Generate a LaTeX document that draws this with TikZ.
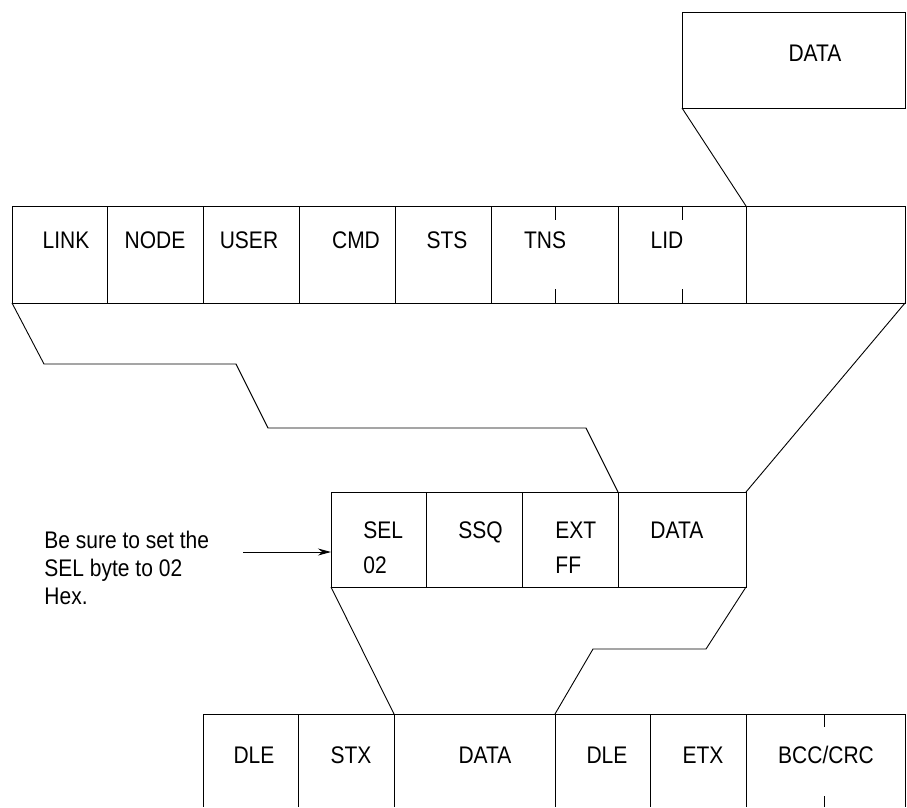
\documentclass[tikz,border=0pt]{standalone}
\usepackage{fontspec}
\setmainfont{Liberation Sans}[FakeStretch=0.875]
\usetikzlibrary{arrows.meta}

\begin{document}
\begin{tikzpicture}[x=1pt, y=-1pt, line width=0.9pt,
    >={Stealth[length=13pt, width=7pt]},
    every node/.style={font=\fontsize{24}{28}\selectfont, inner sep=0pt},
    field/.style={anchor=base}]
    \useasboundingbox (0,0) rectangle (907,807);

    % --- 1. data block (top) ---
    \coordinate (D_nw) at (682,12);
    \coordinate (D_se) at (905,108);
    \coordinate (D_sw) at (682,108);
    \draw (D_nw) rectangle (D_se);
    \node[field] (data_top) at (815,61) {DATA};

    % --- 2. command packet ---
    \coordinate (P_nw) at (12,206);
    \coordinate (P_se) at (905,303);
    \coordinate (P_sw) at (12,303);
    \coordinate (P_data) at (746,206);   % start of data field
    \draw (P_nw) rectangle (P_se);
    \foreach \x in {107,203,299,395,491,618,746}
        \draw (\x,206) -- (\x,303);
    % half-field marks
    \foreach \x in {555,682} {
        \draw (\x,206) -- (\x,220);
        \draw (\x,289) -- (\x,303);
    }
    \node[field] (link) at (66,248)  {LINK};
    \node[field] (node) at (155,248) {NODE};
    \node[field] (user) at (249,248) {USER};
    \node[field] (cmd)  at (356,248) {CMD};
    \node[field] (sts)  at (447,248) {STS};
    \node[field] (tns)  at (545,248) {TNS};
    \node[field] (lid)  at (667,248) {LID};

    \draw (D_sw) -- (P_data);

    % --- 3. PCCC data part ---
    \coordinate (M_nw) at (331,492);
    \coordinate (M_se) at (746,587);
    \coordinate (M_sw) at (331,587);
    \coordinate (M_data) at (618,492);
    \coordinate (M_ne) at (746,492);
    \draw (M_nw) rectangle (M_se);
    \foreach \x in {426,522,618}
        \draw (\x,492) -- (\x,587);
    \node[field, anchor=base west] (sel)    at (363,538) {SEL};
    \node[field, anchor=base west] (selval) at (363,573) {02};
    \node[field, anchor=base west] (ssq)    at (458,538) {SSQ};
    \node[field, anchor=base west] (ext)    at (555,538) {EXT};
    \node[field, anchor=base west] (extval) at (555,573) {FF};
    \node[field, anchor=base west] (data_mid) at (650,538) {DATA};

    % funnel packet -> data part
    \coordinate (f1) at (44,364);
    \coordinate (f2) at (236,364);
    \coordinate (f3) at (268,428);
    \coordinate (f4) at (586,428);
    \draw (P_sw) -- (f1) -- (f2) -- (f3) -- (f4) -- (M_data);
    \draw (P_se) -- (M_ne);

    % note
    \node[anchor=north west, align=left] (note) at (44,531)
        {Be sure to set the\\SEL byte to 02\\Hex.};
    \coordinate (note_end) at (243,552);
    \coordinate (sel_in) at (331,552);
    \draw[->] (note_end) -- (sel_in);

    % --- 4. link layer frame (cut off at bottom) ---
    \coordinate (L_nw) at (203,714);
    \coordinate (L_ne) at (905,714);
    \coordinate (L_data) at (394,714);
    \coordinate (L_dle) at (555,714);
    \draw (L_nw) -- (L_ne);
    \foreach \x in {203,298,394,555,650,746,905}
        \draw (\x,714) -- (\x,807);
    \draw (824,714) -- (824,727);
    \draw (824,796) -- (824,807);
    \node[field] (dle1) at (254,763) {DLE};
    \node[field] (stx)  at (351,763) {STX};
    \node[field] (data_low) at (485,763) {DATA};
    \node[field] (dle2) at (607,763) {DLE};
    \node[field] (etx)  at (703,763) {ETX};
    \node[field] (bcc)  at (826,763) {BCC/CRC};

    % funnel data part -> frame
    \coordinate (g1) at (706,649);
    \coordinate (g2) at (593,649);
    \draw (M_sw) -- (L_data);
    \draw (M_se) -- (g1) -- (g2) -- (L_dle);

\end{tikzpicture}
\end{document}
